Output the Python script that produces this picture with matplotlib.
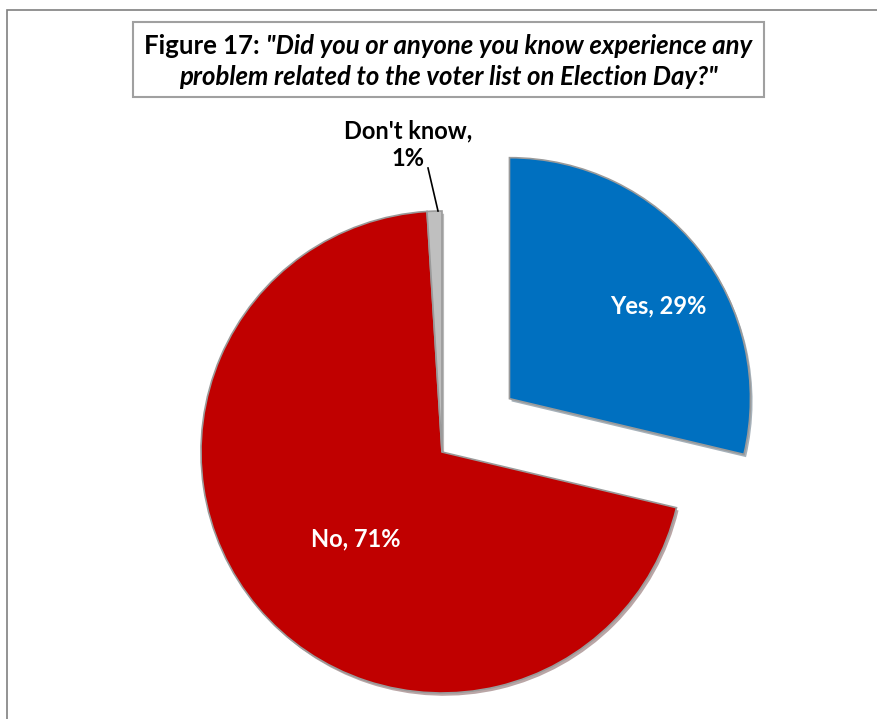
import matplotlib
matplotlib.use("Agg")
import matplotlib.pyplot as plt
from matplotlib.patches import Rectangle
import matplotlib.patheffects as pe

labels = ["Yes", "No", "Don't know"]
values = [29, 71, 1]
colours = ["#0070C0", "#C00000", "#BFBFBF"]
title_lead = "Figure 17: "
title_q1 = "\"Did you or anyone you know experience any"
title_q2 = "problem related to the voter list on Election Day?\""

W, H = 878, 719
fig = plt.figure(figsize=(W / 100, H / 100), dpi=100)
ax = fig.add_axes([0, 0, 1, 1])
ax.axis("off")

FONT = "Lato"

# outer frame (right / bottom edges are cropped off)
ax.add_patch(Rectangle((7, -20), W + 40, H - 10 + 20, fill=False,
                       ec="#808080", lw=1.2))

# pie  (explode is in data units here since radius != 1)
cx, cy, r = 442, H - 452, 241
wedges, _ = ax.pie(values, colors=colours, startangle=90, counterclock=False,
                   center=(cx, cy), radius=r, explode=[86, 0, 0],
                   wedgeprops=dict(edgecolor="#9a9a9a", linewidth=1.2),
                   frame=False)
for w in wedges:
    w.set_path_effects([pe.SimplePatchShadow(offset=(1.5, -2), alpha=0.35),
                        pe.Normal()])
ax.set_xlim(0, W)
ax.set_ylim(0, H)
ax.set_aspect("equal")

ax.text(658, H - 306, f"{labels[0]}, {values[0]}%", color="white",
        fontsize=17, fontweight="bold", family=FONT, ha="center", va="center")
ax.text(356, H - 539, f"{labels[1]}, {values[1]}%", color="white",
        fontsize=17, fontweight="bold", family=FONT, ha="center", va="center")
ax.text(408, H - 131, f"{labels[2]},", color="black",
        fontsize=17, fontweight="bold", family=FONT, ha="center", va="center")
ax.text(408, H - 158, f"{values[2]}%", color="black",
        fontsize=17, fontweight="bold", family=FONT, ha="center", va="center")
ax.plot([428, 438], [H - 168, H - 211], color="black", lw=1.2)

# title box
ax.add_patch(Rectangle((133, H - 97), 631, 75, fc="white",
                       ec="#a0a0a0", lw=1.5, zorder=5))
t1 = ax.text(0, H - 46, title_lead, fontsize=18.5, fontweight="bold",
             family=FONT, ha="left", va="center", zorder=6)
t2 = ax.text(0, H - 46, title_q1, fontsize=18.5, fontweight="bold",
             style="italic", family=FONT, ha="left", va="center", zorder=6)
ax.text(448, H - 77, title_q2, fontsize=18.5, fontweight="bold",
        style="italic", family=FONT, ha="center", va="center", zorder=6)
fig.canvas.draw()
rend = fig.canvas.get_renderer()
w1 = t1.get_window_extent(rend).width
w2 = t2.get_window_extent(rend).width
x0 = 448 - (w1 + w2) / 2
t1.set_x(x0)
t2.set_x(x0 + w1)

fig.savefig("out.png", dpi=100)
